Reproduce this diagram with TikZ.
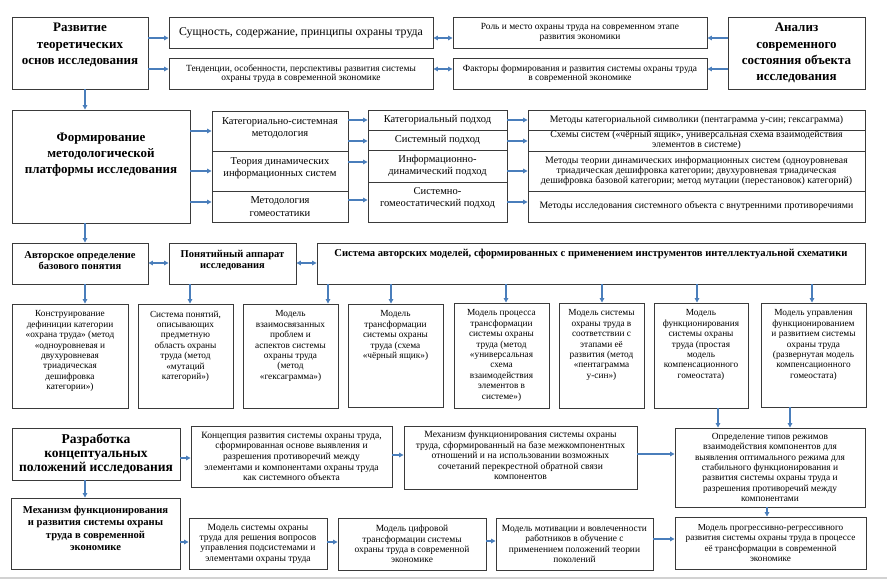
\documentclass[tikz,border=0pt]{standalone}
\usepackage{fontspec}
\setmainfont{Liberation Serif}
\usetikzlibrary{arrows.meta,fit}
\definecolor{ab}{HTML}{4A7EBB}
\definecolor{bd}{HTML}{3A3A3A}
\begin{document}
\begin{tikzpicture}[x=1pt,y=-1pt,
 box/.style={draw=bd,line width=0.9pt,inner sep=0pt},
 tx/.style={align=center,inner sep=0pt,text=black},
 hb/.style={tx,font=\fontsize{13}{16.2}\selectfont\bfseries},
 hv/.style={tx,font=\fontsize{13.5}{14}\selectfont\bfseries},
 mb/.style={tx,font=\fontsize{10.6}{12.3}\selectfont\bfseries},
 sb/.style={tx,font=\fontsize{10.5}{11}\selectfont\bfseries},
 tl/.style={tx,font=\fontsize{11.8}{14}\selectfont},
 tm/.style={tx,font=\fontsize{10.5}{12.3}\selectfont},
 ts/.style={tx,font=\fontsize{9.4}{9.5}\selectfont},
 tj/.style={tx,font=\fontsize{9.8}{10}\selectfont},
 tr/.style={tx,font=\fontsize{9.3}{10.4}\selectfont},
 tw/.style={tx,font=\fontsize{9.6}{10.6}\selectfont},
 ty/.style={tx,font=\fontsize{9.4}{10.3}\selectfont},
 tb/.style={tx,font=\fontsize{9.4}{10.3}\selectfont},
 arr/.style={draw=ab,line width=1.1pt,-{Triangle[length=4.5pt,width=4.5pt]}},
 darr/.style={draw=ab,line width=1.1pt,{Triangle[length=4.5pt,width=4.5pt]}-{Triangle[length=4.5pt,width=4.5pt]}},
]
\useasboundingbox (0,0) rectangle (887,585);
\draw[gray!35,line width=1.5pt] (0,578) -- (887,578);

% helper coordinates
\foreach \n/\v in {y38/38,y69/69,y120/120,y141/141,y162/162,y131/131,y171/171,y202/202,y200/200,y263/263,y458/458,y455/455,y454/454,y542/542,y541/541,y539/539}
  {\coordinate (\n) at (0,\v);}
\foreach \n/\v in {x85/85,x190/190,x328/328,x391/391,x506/506,x602/602,x697/697,x812/812,x718/718,x790/790,x767/767}
  {\coordinate (\n) at (\v,0);}

% Row 1
\node[box,fit={(12,17)(148,89)}] (A) {};
\node[hb] (At) at ([yshift=8pt]A.center) {Развитие\\теоретических\\основ исследования};
\node[box,fit={(169,17)(433,48)}] (B) {};
\node[tl] (Bt) at (B.center) {Сущность, содержание, принципы охраны труда};
\node[box,fit={(169,58)(433,89)}] (C) {};
\node[ts] (Ct) at (C.center) {Тенденции, особенности, перспективы развития системы\\охраны труда в современной экономике};
\node[box,fit={(453,17)(707,48)}] (D) {};
\node[ts] (Dt) at (D.center) {Роль и место охраны труда на современном этапе\\развития экономики};
\node[box,fit={(453,58)(707,89)}] (E) {};
\node[ts] (Et) at (E.center) {Факторы формирования и развития системы охраны труда\\в современной экономике};
\node[box,fit={(728,17)(865,89)}] (F) {};
\node[hb] (Ft) at (F.center) {Анализ\\современного\\состояния объекта\\исследования};

% Row 2
\node[box,fit={(12,110)(190,223)}] (G) {};
\node[hb] (Gt) at ([yshift=12pt]G.center) {Формирование\\методологической\\платформы исследования};
\node[box,fit={(212,111)(348,151)}] (H1) {};
\node[tm] (H1t) at ([yshift=3pt]H1.center) {Категориально-системная\\методология};
\node[box,fit={(212,151)(348,191)}] (H2) {};
\node[tm] (H2t) at ([yshift=3pt]H2.center) {Теория динамических\\информационных систем};
\node[box,fit={(212,191)(348,222)}] (H3) {};
\node[tm] (H3t) at (H3.center) {Методология\\гомеостатики};
\node[box,fit={(368,110)(507,130)}] (I1) {};
\node[tm] (I1t) at (I1.center) {Категориальный подход};
\node[box,fit={(368,130)(507,150)}] (I2) {};
\node[tm] (I2t) at (I2.center) {Системный подход};
\node[box,fit={(368,150)(507,182)}] (I3) {};
\node[tm] (I3t) at (I3.center) {Информационно-\\динамический подход};
\node[box,fit={(368,182)(507,222)}] (I4) {};
\node[tm] (I4t) at ([yshift=4pt]I4.center) {Системно-\\гомеостатический подход};
\node[box,fit={(528,110)(865,130)}] (J1) {};
\node[tj] (J1t) at (J1.center) {Методы категориальной символики (пентаграмма у-син; гексаграмма)};
\node[box,fit={(528,130)(865,151)}] (J2) {};
\node[tj] (J2t) at (J2.center) {Схемы систем («чёрный ящик», универсальная схема взаимодействия\\элементов в системе)};
\node[box,fit={(528,151)(865,191)}] (J3) {};
\node[tj] (J3t) at (J3.center) {Методы теории динамических информационных систем (одноуровневая\\триадическая дешифровка категории; двухуровневая триадическая\\дешифровка базовой категории; метод мутации (перестановок) категорий)};
\node[box,fit={(528,191)(865,222)}] (J4) {};
\node[tj] (J4t) at (J4.center) {Методы исследования системного объекта с внутренними противоречиями};

% Row 3
\node[box,fit={(12,243)(148,284)}] (K) {};
\node[sb] (Kt) at ([yshift=3pt]K.center) {Авторское определение\\базового понятия};
\node[box,fit={(169,243)(296,284)}] (L) {};
\node[sb] (Lt) at ([yshift=3pt]L.center) {Понятийный аппарат\\исследования};
\node[box,fit={(317,243)(865,284)}] (M) {};
\node[sb,font=\fontsize{10.6}{11}\selectfont\bfseries,anchor=north] (Mt) at ([yshift=-6pt]M.north) {Система авторских моделей, сформированных с применением инструментов интеллектуальной схематики};

% Row 4
\node[box,fit={(12,304)(128,408)}] (N) {};
\node[tr,anchor=north] (Nt) at ([yshift=-7pt]N.north) {Конструирование\\дефиниции категории\\«охрана труда» (метод\\«одноуровневая и\\двухуровневая\\триадическая\\дешифровка\\категории»)};
\node[box,fit={(138,304)(233,408)}] (O) {};
\node[tr,anchor=north] (Ot) at ([yshift=-7pt]O.north) {Система понятий,\\описывающих\\предметную\\область охраны\\труда (метод\\«мутаций\\категорий»)};
\node[box,fit={(243,304)(338,408)}] (P) {};
\node[tr,anchor=north] (Pt) at ([yshift=-7pt]P.north) {Модель\\взаимосвязанных\\проблем и\\аспектов системы\\охраны труда\\(метод\\«гексаграмма»)};
\node[box,fit={(348,304)(443,407)}] (Q) {};
\node[tr,anchor=north] (Qt) at ([yshift=-7pt]Q.north) {Модель\\трансформации\\системы охраны\\труда (схема\\«чёрный ящик»)};
\node[box,fit={(454,303)(549,408)}] (R) {};
\node[tr,anchor=north] (Rt) at ([yshift=-7pt]R.north) {Модель процесса\\трансформации\\системы охраны\\труда (метод\\«универсальная\\схема\\взаимодействия\\элементов в\\системе»)};
\node[box,fit={(559,303)(644,408)}] (S) {};
\node[tr,anchor=north] (St) at ([yshift=-7pt]S.north) {Модель системы\\охраны труда в\\соответствии с\\этапами её\\развития (метод\\«пентаграмма\\у-син»)};
\node[box,fit={(654,303)(748,408)}] (T) {};
\node[tr,anchor=north] (Tt) at ([yshift=-7pt]T.north) {Модель\\функционирования\\системы охраны\\труда (простая\\модель\\компенсационного\\гомеостата)};
\node[box,fit={(761,303)(866,407)}] (U) {};
\node[tr,anchor=north] (Ut) at ([yshift=-7pt]U.north) {Модель управления\\функционированием\\и развитием системы\\охраны труда\\(развернутая модель\\компенсационного\\гомеостата)};

% Row 5
\node[box,fit={(12,428)(180,480)}] (V) {};
\node[hv] (Vt) at (V.center) {Разработка\\концептуальных\\положений исследования};
\node[box,fit={(191,426)(392,487)}] (W) {};
\node[tw] (Wt) at (W.center) {Концепция развития системы охраны труда,\\сформированная основе выявления и\\разрешения противоречий между\\элементами и компонентами охраны труда\\как системного объекта};
\node[box,fit={(404,426)(637,489)}] (X) {};
\node[tw] (Xt) at ([yshift=2pt]X.center) {Механизм функционирования системы охраны\\труда, сформированный на базе межкомпонентных\\отношений и на использовании возможных\\сочетаний перекрестной обратной связи\\компонентов};
\node[box,fit={(675,428)(865,507)}] (Y) {};
\node[ty] (Yt) at (Y.center) {Определение типов режимов\\взаимодействия компонентов для\\выявления оптимального режима для\\стабильного функционирования и\\развития системы охраны труда и\\разрешения противоречий между\\компонентами};

% Row 6
\node[box,fit={(11,498)(180,569)}] (Z) {};
\node[mb] (Zt) at ([yshift=5pt]Z.center) {Механизм функционирования\\и развития системы охраны\\труда в современной\\экономике};
\node[box,fit={(189,518)(327,569)}] (AA) {};
\node[tb,font=\fontsize{9.6}{10.3}\selectfont] (AAt) at (AA.center) {Модель системы охраны\\труда для решения вопросов\\управления подсистемами и\\элементами охраны труда};
\node[box,fit={(338,518)(486,570)}] (AB) {};
\node[tb] (ABt) at (AB.center) {Модель цифровой\\трансформации системы\\охраны труда в современной\\экономике};
\node[box,fit={(496,518)(653,570)}] (AC) {};
\node[tb] (ACt) at (AC.center) {Модель мотивации и вовлеченности\\работников в обучение с\\применением положений теории\\поколений};
\node[box,fit={(675,517)(866,569)}] (AD) {};
\node[tb,font=\fontsize{9.2}{10.3}\selectfont] (ADt) at (AD.center) {Модель прогрессивно-регрессивного\\развития системы охраны труда в процессе\\её трансформации в современной\\экономике};

% Connectors
\draw[arr] (A.east |- y38) -- (B.west |- y38);
\draw[arr] (A.east |- y69) -- (C.west |- y69);
\draw[arr] (F.west |- y38) -- (D.east |- y38);
\draw[arr] (F.west |- y69) -- (E.east |- y69);
\draw[darr] (B.east |- y38) -- (D.west |- y38);
\draw[darr] (C.east |- y69) -- (E.west |- y69);
\draw[arr] (A.south -| x85) -- (G.north -| x85);
\draw[arr] (G.east |- y131) -- (H1.west |- y131);
\draw[arr] (G.east |- y171) -- (H2.west |- y171);
\draw[arr] (G.east |- y202) -- (H3.west |- y202);
\draw[arr] (H1.east |- y120) -- (I1.west |- y120);
\draw[arr] (H1.east |- y141) -- (I2.west |- y141);
\draw[arr] (H2.east |- y162) -- (I3.west |- y162);
\draw[arr] (H3.east |- y200) -- (I4.west |- y200);
\draw[arr] (I1.east |- y120) -- (J1.west |- y120);
\draw[arr] (I2.east |- y141) -- (J2.west |- y141);
\draw[arr] (I3.east |- y171) -- (J3.west |- y171);
\draw[arr] (I4.east |- y202) -- (J4.west |- y202);
\draw[arr] (G.south -| x85) -- (K.north -| x85);
\draw[darr] (K.east |- y263) -- (L.west |- y263);
\draw[darr] (L.east |- y263) -- (M.west |- y263);
\draw[arr] (K.south -| x85) -- (N.north -| x85);
\draw[arr] (L.south -| x190) -- (O.north -| x190);
\draw[arr] (M.south -| x328) -- (P.north -| x328);
\draw[arr] (M.south -| x391) -- (Q.north -| x391);
\draw[arr] (M.south -| x506) -- (R.north -| x506);
\draw[arr] (M.south -| x602) -- (S.north -| x602);
\draw[arr] (M.south -| x697) -- (T.north -| x697);
\draw[arr] (M.south -| x812) -- (U.north -| x812);
\draw[arr] (T.south -| x718) -- (Y.north -| x718);
\draw[arr] (U.south -| x790) -- (Y.north -| x790);
\draw[arr] (V.east |- y458) -- (W.west |- y458);
\draw[arr] (W.east |- y455) -- (X.west |- y455);
\draw[arr] (X.east |- y454) -- (Y.west |- y454);
\draw[arr] (V.south -| x85) -- (Z.north -| x85);
\draw[arr] (Z.east |- y542) -- (AA.west |- y542);
\draw[arr] (AA.east |- y542) -- (AB.west |- y542);
\draw[arr] (AB.east |- y541) -- (AC.west |- y541);
\draw[arr] (AC.east |- y539) -- (AD.west |- y539);
\draw[arr] (Y.south -| x767) -- (AD.north -| x767);
\end{tikzpicture}
\end{document}
